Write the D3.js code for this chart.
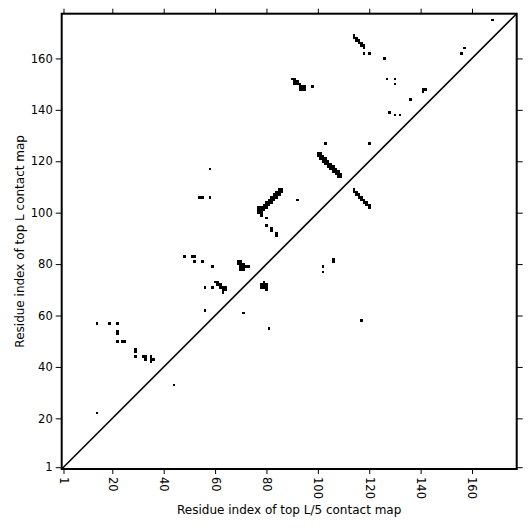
<!DOCTYPE html>
<html>
<head>
<meta charset="utf-8">
<script src="https://cdn.jsdelivr.net/npm/d3@7"></script>
<style>
  body { margin: 0; background: #fff; }
  text { font-family: "DejaVu Sans", sans-serif; fill: #000; }
</style>
</head>
<body>
<div class="container"></div>
<script>
// contacts above the diagonal, [x residue, y residue]
const upperPairs = [
  [14,57],[19,57],[22,57],[22,54],[22,53],[22,50],[24,50],[25,50],
  [29,47],[29,46],[29,44],[32,44],[33,44],[33,43],[35,44],[35,43],[36,43],[35,42],
  [14,22],
  [48,83],[51,83],[52,83],[52,81],[55,81],[59,79],
  [69,81],[70,81],[69,80],[70,80],[71,80],[70,79],[71,79],[72,79],[73,79],[70,78],[71,78],
  [56,71],[59,71],
  [60,73],[61,73],[61,72],[62,72],[62,71],[63,71],[64,71],[63,70],[64,70],[63,69],
  [56,62],
  [58,117],[54,106],[55,106],[58,106],
  [77,100],[77,101],[77,102],[78,99],[78,100],[78,101],[78,102],
  [79,101],[79,102],[79,103],[80,102],[80,103],[80,104],[81,103],[81,104],[81,105],
  [82,104],[82,105],[82,106],[83,105],[83,106],[83,107],[84,106],[84,107],[84,108],
  [85,107],[85,108],[85,109],[86,108],[86,109],
  [80,98],[80,95],[82,94],[82,93],[84,92],[84,91],
  [92,105],[103,127],[120,127],
  [100,122],[100,123],[101,121],[101,122],[101,123],[102,120],[102,121],[102,122],
  [103,119],[103,120],[103,121],[104,118],[104,119],[104,120],[105,117],[105,118],[105,119],
  [106,116],[106,117],[106,118],[107,115],[107,116],[107,117],[108,114],[108,115],[108,116],
  [109,114],[109,115],
  [114,109],[114,108],[115,108],[115,107],[116,107],[116,106],[117,106],[117,105],
  [118,105],[118,104],[119,104],[119,103],[120,103],[120,102],
  [90,152],[91,152],[91,151],[92,151],[91,150],[92,150],[93,150],
  [93,149],[94,149],[95,149],[93,148],[94,148],[95,148],
  [98,149],
  [114,169],[114,168],[115,168],[115,167],[116,167],[116,166],[117,166],[117,165],
  [118,165],[118,164],
  [118,162],[120,162],[126,160],[127,152],[130,152],[130,150],[136,144],
  [141,148],[142,148],[141,147],[128,139],[130,138],[132,138],
  [157,164],[156,162],[168,175]
];

// contacts below the diagonal
const lowerPairs = [
  [44,33],[71,61],[81,55],[117,58],[102,79],[102,77],[106,82],[106,81],
  [79,73],[78,72],[79,72],[80,72],[78,71],[79,71],[80,71],[80,70]
];

const tickVals = [1, 20, 40, 60, 80, 100, 120, 140, 160];
const xTitle = "Residue index of top L/5 contact map";
const yTitle = "Residue index of top L contact map";

const W = 531, H = 531;
const padL = 61.7, padR = 516.7, padT = 13.7, padB = 469;

const svg = d3.select(".container").append("svg")
  .attr("width", W)
  .attr("height", H)
  .style("background", "#fff");

const x = d3.scaleLinear().domain([0.3, 177.4]).range([padL, padR]);
const y = d3.scaleLinear().domain([0.3, 177.4]).range([padB, padT]);

const allPairs = upperPairs.concat(lowerPairs);

// snap cell edges to whole pixels so that neighbouring cells join up
svg.append("g")
  .selectAll("rect")
  .data(allPairs)
  .enter()
  .append("rect")
  .attr("x", d => Math.round(x(d[0] - 0.5)))
  .attr("y", d => Math.round(y(d[1] + 0.5)))
  .attr("width", d => Math.round(x(d[0] + 0.5)) - Math.round(x(d[0] - 0.5)))
  .attr("height", d => Math.round(y(d[1] - 0.5)) - Math.round(y(d[1] + 0.5)))
  .attr("fill", "#000")
  .attr("shape-rendering", "crispEdges");

// diagonal
svg.append("line")
  .attr("x1", x(0.3)).attr("y1", y(0.3))
  .attr("x2", x(177.4)).attr("y2", y(177.4))
  .attr("stroke", "#000")
  .attr("stroke-width", 1.6);

// axes
const tickLen = 5;
const gx = svg.append("g")
  .attr("transform", `translate(0,${padB})`)
  .call(d3.axisBottom(x).tickValues(tickVals).tickSize(tickLen).tickSizeOuter(0));
gx.selectAll("text")
  .attr("y", 0)
  .attr("x", 8)
  .attr("dy", "0.35em")
  .attr("transform", "rotate(90)")
  .style("text-anchor", "start");

const gy = svg.append("g")
  .attr("transform", `translate(${padL},0)`)
  .call(d3.axisLeft(y).tickValues(tickVals).tickSize(tickLen + 1).tickSizeOuter(0));

const gt = svg.append("g")
  .attr("transform", `translate(0,${padT})`)
  .call(d3.axisTop(x).tickValues(tickVals).tickSize(tickLen).tickSizeOuter(0).tickFormat(""));

const gr = svg.append("g")
  .attr("transform", `translate(${padR},0)`)
  .call(d3.axisRight(y).tickValues(tickVals).tickSize(tickLen + 1).tickSizeOuter(0).tickFormat(""));

[gx, gy, gt, gr].forEach(g => {
  g.select(".domain").remove();
  g.selectAll("text").style("font-size", "11.5px").style("font-family", "'DejaVu Sans', sans-serif");
  g.selectAll("line").attr("stroke", "#000").attr("stroke-width", 1);
});

// frame
svg.append("rect")
  .attr("x", padL).attr("y", padT)
  .attr("width", padR - padL).attr("height", padB - padT)
  .attr("fill", "none")
  .attr("stroke", "#000")
  .attr("stroke-width", 2);

svg.append("text")
  .attr("x", (padL + padR) / 2)
  .attr("y", 514)
  .attr("text-anchor", "middle")
  .style("font-size", "12px")
  .text(xTitle);

svg.append("text")
  .attr("transform", `translate(24,${(padT + padB) / 2}) rotate(-90)`)
  .attr("text-anchor", "middle")
  .style("font-size", "12px")
  .text(yTitle);
</script>
</body>
</html>
